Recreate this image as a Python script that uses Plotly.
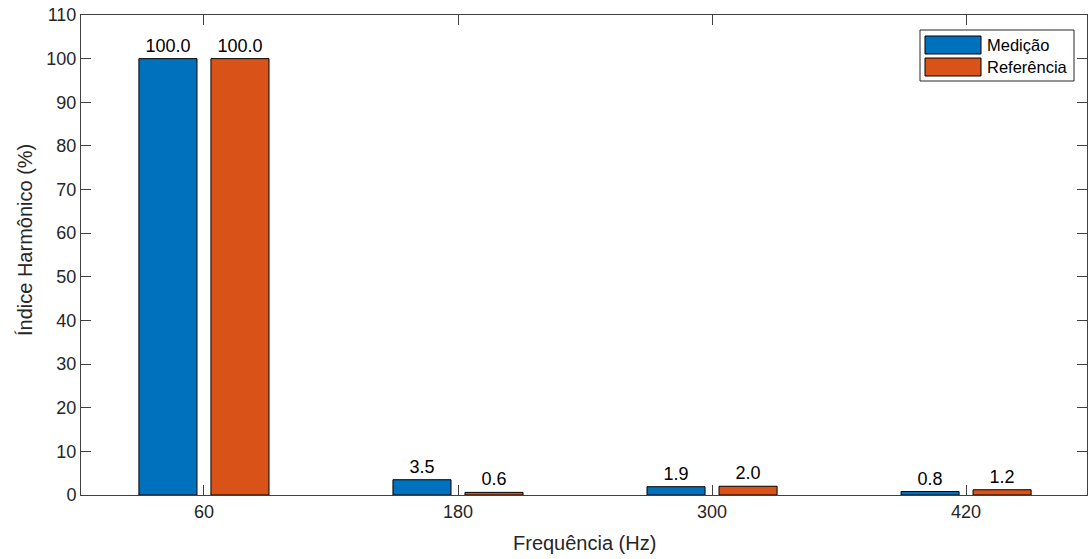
import plotly.graph_objects as go

categories = ["60", "180", "300", "420"]
medicao = [100.0, 3.5, 1.9, 0.8]
referencia = [100.0, 0.6, 2.0, 1.2]
series_names = ["Medição", "Referência"]
colors = ["#0072BD", "#D95319"]

FONT = "Liberation Sans, Arial, Helvetica, sans-serif"
TXT = "#262626"

fig = go.Figure()
for name, vals, col in zip(series_names, [medicao, referencia], colors):
    fig.add_trace(go.Bar(
        x=categories, y=vals, name=name,
        marker=dict(color=col, line=dict(color="#000000", width=1)),
        text=[f"{v:.1f}" for v in vals], textposition="outside",
        textfont=dict(family=FONT, size=18, color="#000000"),
        cliponaxis=False, showlegend=False,
    ))

L, T, R, B = 81, 15, 1087, 495   # plot area in page pixels (body margin removed)
fig.update_layout(
    width=1088, height=559,
    margin=dict(l=L, r=1088 - R, t=T, b=559 - B),
    paper_bgcolor="white", plot_bgcolor="white",
    barmode="group", bargap=0.433, bargroupgap=0.194,
    font=dict(family=FONT, size=18, color=TXT),
    xaxis=dict(
        type="category", range=[-0.484, 3.476], automargin=False,
        showline=True, linecolor="#404040", linewidth=1, mirror="ticks",
        ticks="inside", ticklen=10, tickcolor="#404040",
        showgrid=False, zeroline=False, ticklabeloverflow="allow",
    ),
    yaxis=dict(
        range=[0, 110], dtick=10, automargin=False,
        showline=True, linecolor="#404040", linewidth=1, mirror="ticks",
        ticks="inside", ticklen=10, tickcolor="#404040",
        showgrid=False, zeroline=False, ticklabeloverflow="allow",
    ),
)

W, H = R - L, B - T
def px(x): return (x - L) / W
def py(y): return (B - y) / H

# axis titles
fig.add_annotation(xref="paper", yref="paper", x=px(584), y=py(543),
                   text="Frequência (Hz)", showarrow=False,
                   xanchor="center", yanchor="middle",
                   font=dict(family=FONT, size=20, color=TXT))
fig.add_annotation(xref="paper", yref="paper", x=px(25), y=py(240),
                   text="Índice Harmônico (%)", showarrow=False, textangle=-90,
                   xanchor="center", yanchor="middle",
                   font=dict(family=FONT, size=20, color=TXT))

# legend box (MATLAB style)
fig.add_shape(type="rect", xref="paper", yref="paper",
              x0=px(920), x1=px(1074), y0=py(81), y1=py(30),
              line=dict(color="#262626", width=1), fillcolor="white")
for i, (name, col) in enumerate(zip(series_names, colors)):
    top = 36 + i * 22
    fig.add_shape(type="rect", xref="paper", yref="paper",
                  x0=px(925), x1=px(981), y0=py(top + 18), y1=py(top),
                  line=dict(color="#000000", width=1), fillcolor=col)
    fig.add_annotation(xref="paper", yref="paper", x=px(985), y=py(top + 9),
                       text=name, showarrow=False, xanchor="left", yanchor="middle",
                       font=dict(family=FONT, size=16.5, color="#000000"))

fig.write_html("out.html", config={"displayModeBar": False},
               post_script="document.body.style.margin='0';document.body.style.overflow='hidden';")
